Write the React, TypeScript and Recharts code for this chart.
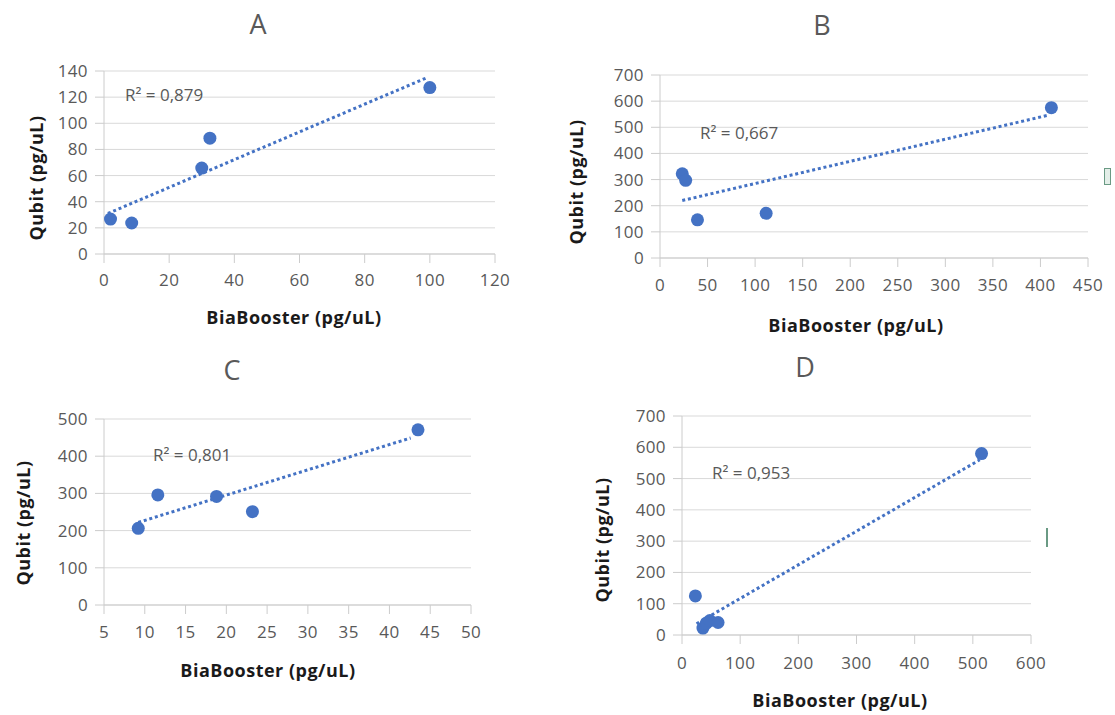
import React from 'react';
import { ScatterChart, Scatter, XAxis, YAxis, CartesianGrid } from 'recharts';

// Panel A
const aX = [2, 8.5, 30, 32.5, 100];
const aY = [26.7, 23.7, 65.7, 88.6, 127.3];
const aTrendX = [1.2, 99.2];
const aTrendY = [31, 135];
const aXTicks = [0, 20, 40, 60, 80, 100, 120];
const aYTicks = [0, 20, 40, 60, 80, 100, 120, 140];

// Panel B
const bX = [23.4, 27, 39.4, 111.6, 411.5];
const bY = [322, 297, 146, 171, 575];
const bTrendX = [23.4, 408];
const bTrendY = [220, 546];
const bXTicks = [0, 50, 100, 150, 200, 250, 300, 350, 400, 450];
const bYTicks = [0, 100, 200, 300, 400, 500, 600, 700];

// Panel C
const cX = [9.2, 11.6, 18.8, 23.2, 43.5];
const cY = [206, 296, 292, 251, 471];
const cTrendX = [9.2, 42.6];
const cTrendY = [222, 449];
const cXTicks = [5, 10, 15, 20, 25, 30, 35, 40, 45, 50];
const cYTicks = [0, 100, 200, 300, 400, 500];

// Panel D
const dX = [23, 36, 42, 48, 62, 515];
const dY = [125, 22, 38, 46, 40, 580];
const dTrendX = [25, 512];
const dTrendY = [36, 560];
const dXTicks = [0, 100, 200, 300, 400, 500, 600];
const dYTicks = [0, 100, 200, 300, 400, 500, 600, 700];

const FONT = '"Open Sans", sans-serif';
const BLUE = '#4472C4';
const GRID = '#d9d9d9';
const AXIS = '#cccccc';
const GRAY = '#595959';
const YW = 60;
const XH = 40;

type Box = { left: number; top: number; width: number; height: number };
type Plot = { left: number; right: number; top: number; bottom: number };

interface PanelProps {
  title: string;
  titlePos: [number, number];
  box: Box;
  plot: Plot;
  xs: number[];
  ys: number[];
  trendX: number[];
  trendY: number[];
  xTicks: number[];
  yTicks: number[];
  r2: string;
  r2Pos: [number, number];
  xTitlePos: [number, number];
  yTitlePos: [number, number];
  xTickMargin: number;
}

const dot = (props: any) => <circle cx={props.cx} cy={props.cy} r={6.5} fill={BLUE} />;
const noDot = () => <g />;

const tickStyle = { fill: GRAY, fontSize: 17, fontFamily: FONT, letterSpacing: 0.4 };

const Panel: React.FC<PanelProps> = (p) => {
  const pts = p.xs.map((x, i) => ({ x, y: p.ys[i] }));
  const trend = p.trendX.map((x, i) => ({ x, y: p.trendY[i] }));
  const margin = {
    left: p.plot.left - p.box.left - YW,
    top: p.plot.top - p.box.top,
    right: p.box.left + p.box.width - p.plot.right,
    bottom: p.box.top + p.box.height - p.plot.bottom - XH,
  };
  const xDom = [p.xTicks[0], p.xTicks[p.xTicks.length - 1]];
  const yDom = [p.yTicks[0], p.yTicks[p.yTicks.length - 1]];
  return (
    <>
      <div style={{ position: 'absolute', left: p.box.left, top: p.box.top }}>
        <ScatterChart width={p.box.width} height={p.box.height} margin={margin}>
          <CartesianGrid stroke={GRID} vertical={false} />
          <XAxis
            type="number"
            dataKey="x"
            domain={xDom}
            ticks={p.xTicks}
            interval={0}
            height={XH}
            stroke={AXIS}
            tickSize={9}
            tickMargin={p.xTickMargin}
            tick={tickStyle}
          />
          <YAxis
            type="number"
            dataKey="y"
            domain={yDom}
            ticks={p.yTicks}
            interval={0}
            width={YW}
            stroke={AXIS}
            tickSize={9}
            tickMargin={7}
            tick={tickStyle}
          />
          <Scatter
            data={trend}
            line={{ stroke: BLUE, strokeWidth: 3, strokeDasharray: '3 2.8' }}
            shape={noDot}
            isAnimationActive={false}
          />
          <Scatter data={pts} fill={BLUE} shape={dot} isAnimationActive={false} />
        </ScatterChart>
      </div>
      <div
        style={{
          position: 'absolute', left: p.titlePos[0], top: p.titlePos[1],
          transform: 'translate(-50%, -50%)', fontFamily: FONT, fontSize: 27,
          color: GRAY, lineHeight: '32px', whiteSpace: 'nowrap',
        }}
      >
        {p.title}
      </div>
      <div
        style={{
          position: 'absolute', left: p.r2Pos[0], top: p.r2Pos[1],
          transform: 'translateY(-50%)', fontFamily: FONT, fontSize: 17,
          color: GRAY, lineHeight: '22px', whiteSpace: 'nowrap',
        }}
      >
        {p.r2}
      </div>
      <div
        style={{
          position: 'absolute', left: p.xTitlePos[0], top: p.xTitlePos[1],
          transform: 'translate(-50%, -50%)', fontFamily: FONT, fontSize: 18,
          fontWeight: 700, color: '#1a1a1a', lineHeight: '24px', whiteSpace: 'nowrap', letterSpacing: 0.5,
        }}
      >
        BiaBooster (pg/uL)
      </div>
      <div
        style={{
          position: 'absolute', left: p.yTitlePos[0], top: p.yTitlePos[1],
          transform: 'translate(-50%, -50%) rotate(-90deg)', fontFamily: FONT, fontSize: 18,
          fontWeight: 700, color: '#1a1a1a', lineHeight: '24px', whiteSpace: 'nowrap', letterSpacing: 0.5,
        }}
      >
        Qubit (pg/uL)
      </div>
    </>
  );
};

export default function App() {
  return (
    <div style={{ position: 'absolute', left: 0, top: 0, width: 1115, height: 715, background: '#fff', overflow: 'hidden' }}>
      <Panel
        title="A" titlePos={[258, 24]}
        box={{ left: 0, top: 0, width: 560, height: 340 }}
        plot={{ left: 104, right: 495, top: 71, bottom: 254 }}
        xs={aX} ys={aY} trendX={aTrendX} trendY={aTrendY}
        xTicks={aXTicks} yTicks={aYTicks}
        r2="R² = 0,879" r2Pos={[125, 95]}
        xTitlePos={[294, 317]} yTitlePos={[36, 178]} xTickMargin={11}
      />
      <Panel
        title="B" titlePos={[822, 25]}
        box={{ left: 560, top: 0, width: 555, height: 340 }}
        plot={{ left: 660, right: 1088, top: 75, bottom: 258 }}
        xs={bX} ys={bY} trendX={bTrendX} trendY={bTrendY}
        xTicks={bXTicks} yTicks={bYTicks}
        r2="R² = 0,667" r2Pos={[700, 133]}
        xTitlePos={[856, 325]} yTitlePos={[576, 182]} xTickMargin={12}
      />
      <Panel
        title="C" titlePos={[232, 370]}
        box={{ left: 0, top: 340, width: 560, height: 375 }}
        plot={{ left: 104, right: 471, top: 419, bottom: 605 }}
        xs={cX} ys={cY} trendX={cTrendX} trendY={cTrendY}
        xTicks={cXTicks} yTicks={cYTicks}
        r2="R² = 0,801" r2Pos={[153, 455]}
        xTitlePos={[268, 670]} yTitlePos={[23, 523]} xTickMargin={12}
      />
      <Panel
        title="D" titlePos={[805, 367]}
        box={{ left: 560, top: 340, width: 555, height: 375 }}
        plot={{ left: 682, right: 1031, top: 416, bottom: 635 }}
        xs={dX} ys={dY} trendX={dTrendX} trendY={dTrendY}
        xTicks={dXTicks} yTicks={dYTicks}
        r2="R² = 0,953" r2Pos={[712, 473]}
        xTitlePos={[840, 700]} yTitlePos={[602, 540]} xTickMargin={13}
      />
      <div style={{ position: 'absolute', left: 1104, top: 168, width: 5, height: 15, border: '1px solid #6a9a84', background: '#e3eee8' }} />
      <div style={{ position: 'absolute', left: 1046, top: 528, width: 2, height: 19, background: '#6a9a84' }} />
    </div>
  );
}
